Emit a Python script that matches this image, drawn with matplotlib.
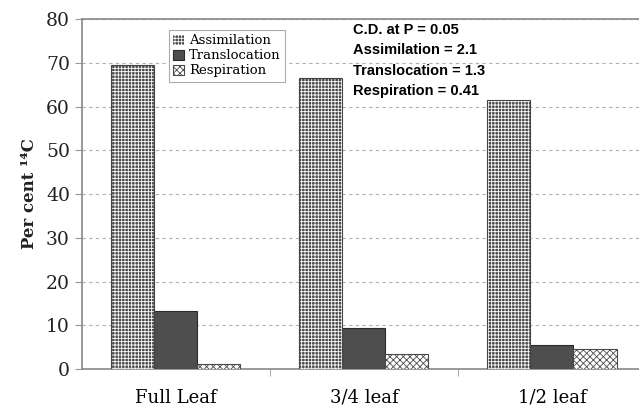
import matplotlib.pyplot as plt
import numpy as np

# data
categories = ["Full Leaf", "3/4 leaf", "1/2 leaf"]
assimilation = [69.5, 66.5, 61.5]
translocation = [13.2, 9.3, 5.5]
respiration = [1.2, 3.4, 4.5]
series_names = ["Assimilation", "Translocation", "Respiration"]
cd_lines = ["C.D. at P = 0.05", "Assimilation = 2.1",
            "Translocation = 1.3", "Respiration = 0.41"]

plt.rcParams['hatch.linewidth'] = 0.6

fig = plt.figure(figsize=(6.39, 4.18), dpi=100)
ax = fig.add_axes([0.128, 0.117, 0.872, 0.8375])

x = np.arange(len(categories))
w = 0.229

# assimilation: dark with white grid
b1 = ax.bar(x - w, assimilation, w, color="#4a4a4a", edgecolor="white",
            hatch="+++++", linewidth=0, zorder=3)
ax.bar(x - w, assimilation, w, fill=False, edgecolor="#444444", linewidth=0.8, zorder=4)
# translocation: dark solid
b2 = ax.bar(x, translocation, w, color="#4e4e4e", edgecolor="#2a2a2a",
            linewidth=0.8, zorder=3)
# respiration: light checker
b3 = ax.bar(x + w, respiration, w, color="white", edgecolor="#4a4a4a",
            hatch="xxxxx", linewidth=0.8, zorder=3)

ax.set_xlim(-0.5, 2.463)
ax.set_ylim(0, 80)
ax.set_yticks(range(0, 81, 10))
ax.yaxis.grid(True, linestyle=(0, (3, 3)), color="#b0b0b0", linewidth=0.8)
ax.set_axisbelow(True)

ax.set_xticks(x)
ax.set_xticklabels(categories, family="DejaVu Serif", fontsize=13)
ax.tick_params(axis="x", length=0, pad=14)
ax.set_xticks([0.5, 1.5], minor=True)
ax.tick_params(axis="x", which="minor", length=5, color="#999999")
ax.tick_params(axis="y", length=5, color="#999999", labelsize=13.5, labelcolor="#222222")
for lab in ax.get_yticklabels():
    lab.set_family("DejaVu Serif")

for s in ["left", "bottom", "top"]:
    ax.spines[s].set_color("#888888")
    ax.spines[s].set_linewidth(1.2)
ax.spines["right"].set_visible(False)

ax.set_ylabel("Per cent ¹⁴C", family="DejaVu Serif", fontweight="bold",
              fontsize=12, color="#222222", labelpad=6)

leg = ax.legend([b1, b2, b3], series_names, loc="upper left",
                bbox_to_anchor=(162 / 639, 1 - 23 / 418), bbox_transform=fig.transFigure,
                prop={"family": "DejaVu Serif", "size": 9.5}, handlelength=0.8,
                handleheight=0.8, handletextpad=0.4, borderpad=0.35, labelspacing=0.15,
                fancybox=False, edgecolor="#aaaaaa", framealpha=1)
leg.get_frame().set_linewidth(0.8)

for i, line in enumerate(cd_lines):
    fig.text(353 / 639, 1 - (30 + 20.3 * i) / 418, line, fontweight="bold",
             family="Liberation Sans", fontsize=10.5, va="center", ha="left")

fig.savefig("out.png", dpi=100)
